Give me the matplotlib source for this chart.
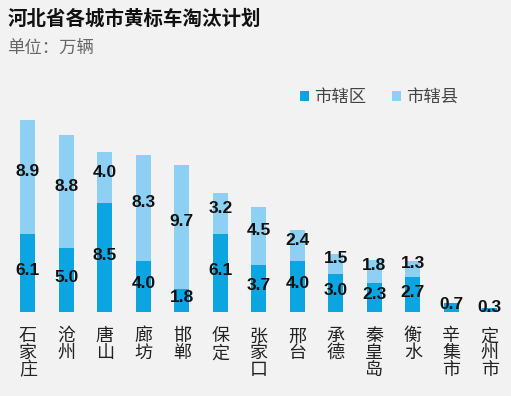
import numpy as np
import matplotlib
matplotlib.use('Agg')
import matplotlib.pyplot as plt

plt.rcParams['font.family'] = ['Noto Sans CJK SC', 'DejaVu Sans']

cities = ['石家庄', '沧州', '唐山', '廊坊', '邯郸', '保定', '张家口', '邢台',
          '承德', '秦皇岛', '衡水', '辛集市', '定州市']
# 市辖区 / 市辖县 (万辆)
district = [6.1, 5.0, 8.5, 4.0, 1.8, 6.1, 3.7, 4.0, 3.0, 2.3, 2.7, 0.7, 0.3]
county = [8.9, 8.8, 4.0, 8.3, 9.7, 3.2, 4.5, 2.4, 1.5, 1.8, 1.3, 0, 0]

bg = '#f2f2f2'
dark = '#0ba5e2'
light = '#8ed0f3'

fig = plt.figure(figsize=(5.11, 3.96), dpi=100, facecolor=bg)
ax = fig.add_axes([0.0171, 1 - 312 / 396, 0.979, 204.8 / 396])
ax.set_facecolor(bg)

x = np.arange(len(cities))
w = 0.39
ax.bar(x, district, w, color=dark, label='市辖区')
ax.bar(x, county, w, bottom=district, color=light, label='市辖县')

num_font = dict(family=['Liberation Sans', 'DejaVu Sans'], fontweight='bold',
                fontsize=12.5, color='#111111', ha='center', va='center')
for i in range(len(cities)):
    ax.text(x[i], district[i] / 2 + 0.2, '%.1f' % district[i], **num_font)
    if county[i] > 0:
        ax.text(x[i], district[i] + county[i] / 2 + 0.4, '%.1f' % county[i], **num_font)

ax.set_xlim(-0.5, len(cities) - 0.5)
ax.set_ylim(0, 16)
ax.set_yticks([])
ax.set_xticks(x)
ax.set_xticklabels(['\n'.join(c) for c in cities], fontsize=13, color='#222222',
                   linespacing=0.92)
ax.tick_params(axis='x', length=0, pad=11)
for s in ax.spines.values():
    s.set_visible(False)

fig.text(0.014, 1 - 19 / 396, '河北省各城市黄标车淘汰计划', fontsize=14, fontweight='bold',
         color='#111111', va='center')
fig.text(0.014, 1 - 48 / 396, '单位：万辆', fontsize=12.5, color='#666666', va='center')

leg = ax.legend(loc='upper right', bbox_to_anchor=(0.93, 1.0 + 35 / 204.8), ncol=2, frameon=False,
                fontsize=12.5, handlelength=0.5, handleheight=0.5, handletextpad=0.3,
                columnspacing=1.5)
for t in leg.get_texts():
    t.set_color('#444444')

fig.savefig('out.png', dpi=100, facecolor=bg)
